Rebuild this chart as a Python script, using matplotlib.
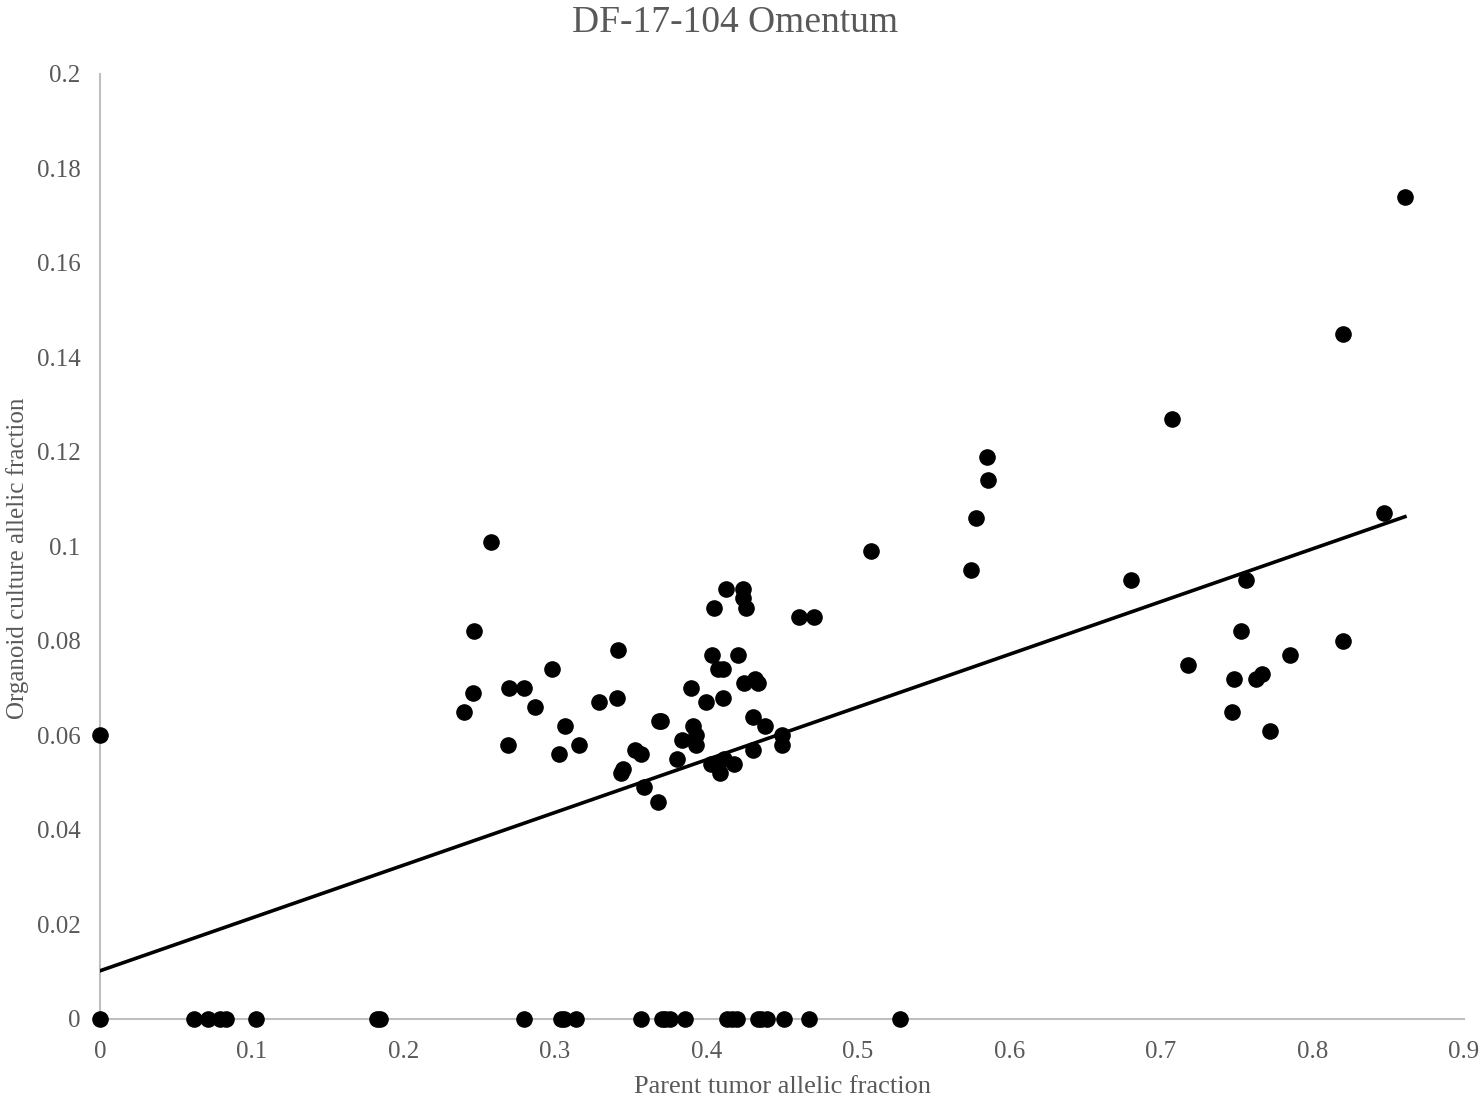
import numpy as np
import matplotlib
matplotlib.use("Agg")
import matplotlib.pyplot as plt

plt.rcParams['font.family'] = ['Liberation Serif', 'DejaVu Serif']

title = "DF-17-104 Omentum"
xlabel = "Parent tumor allelic fraction"
ylabel = "Organoid culture allelic fraction"

# variants not detected in the organoid culture (y = 0)
x_zero = [0.0, 0.062, 0.071, 0.079, 0.083, 0.103, 0.183, 0.185, 0.280, 0.304,
          0.306, 0.314, 0.357, 0.371, 0.373, 0.376, 0.386, 0.414, 0.417, 0.420,
          0.434, 0.436, 0.440, 0.451, 0.468, 0.528]

# detected variants
x_det = [0.0, 0.240, 0.246, 0.247, 0.258, 0.269, 0.270, 0.280, 0.287, 0.298,
         0.303, 0.307, 0.316, 0.329, 0.341, 0.342, 0.344, 0.345, 0.353, 0.357,
         0.359, 0.368, 0.369, 0.370, 0.381, 0.384, 0.390, 0.391, 0.393, 0.393,
         0.400, 0.403, 0.404, 0.405, 0.408, 0.409, 0.411, 0.411, 0.412, 0.413,
         0.418, 0.421, 0.424, 0.424, 0.425, 0.426, 0.431, 0.431, 0.432, 0.434,
         0.439, 0.450, 0.450, 0.461, 0.471, 0.509, 0.575, 0.578, 0.585, 0.586,
         0.680, 0.707, 0.718, 0.747, 0.748, 0.753, 0.756, 0.763, 0.767, 0.772,
         0.785, 0.820, 0.820, 0.847, 0.861]
y_det = [0.060, 0.065, 0.069, 0.082, 0.101, 0.058, 0.070, 0.070, 0.066, 0.074,
         0.056, 0.062, 0.058, 0.067, 0.068, 0.078, 0.052, 0.053, 0.057, 0.056,
         0.049, 0.046, 0.063, 0.063, 0.055, 0.059, 0.070, 0.062, 0.060, 0.058,
         0.067, 0.054, 0.077, 0.087, 0.074, 0.052, 0.074, 0.068, 0.055, 0.091,
         0.054, 0.077, 0.091, 0.089, 0.071, 0.087, 0.064, 0.057, 0.072, 0.071,
         0.062, 0.060, 0.058, 0.085, 0.085, 0.099, 0.095, 0.106, 0.119, 0.114,
         0.093, 0.127, 0.075, 0.065, 0.072, 0.082, 0.093, 0.072, 0.073, 0.061,
         0.077, 0.080, 0.145, 0.107, 0.174]

# linear trendline as shown on the chart (slope, intercept)
trend_slope = 0.1116
trend_icept = 0.0102

xs = np.array(x_zero + x_det)
ys = np.array([0.0] * len(x_zero) + y_det)

fig = plt.figure(figsize=(14.8, 10.99), dpi=100)
ax = fig.add_axes([0.0676, 0.0728, 0.9216, 0.86])

ax.scatter(xs, ys, s=120, color='black', zorder=3, clip_on=False)

# trendline spans the range of the data
xt = np.array([xs.min(), xs.max()])
ax.plot(xt, trend_slope * xt + trend_icept, color='black', lw=2.6, zorder=4)

ax.set_xlim(0, 0.9)
ax.set_ylim(0, 0.2)
ax.set_xticks(np.arange(0, 0.91, 0.1))
ax.set_yticks(np.arange(0, 0.201, 0.02))
ax.set_xticklabels(['0', '0.1', '0.2', '0.3', '0.4', '0.5', '0.6', '0.7', '0.8', '0.9'])
ax.set_yticklabels(['0', '0.02', '0.04', '0.06', '0.08', '0.1', '0.12', '0.14', '0.16', '0.18', '0.2'])

for side in ['top', 'right']:
    ax.spines[side].set_visible(False)
for side in ['left', 'bottom']:
    ax.spines[side].set_color('#bfbfbf')
    ax.spines[side].set_linewidth(1.5)
ax.tick_params(length=0, labelsize=18, labelcolor='#595959')
ax.tick_params(axis='y', pad=14)
ax.tick_params(axis='x', pad=16)

fig.suptitle(title, fontsize=27, color='#595959', x=0.497, y=0.995, va='top')
ax.set_xlabel(xlabel, fontsize=19, color='#595959', labelpad=9)
ax.set_ylabel(ylabel, fontsize=18, color='#595959')
ax.yaxis.set_label_coords(-0.052, 0.487)

fig.savefig('out.png', dpi=100)
